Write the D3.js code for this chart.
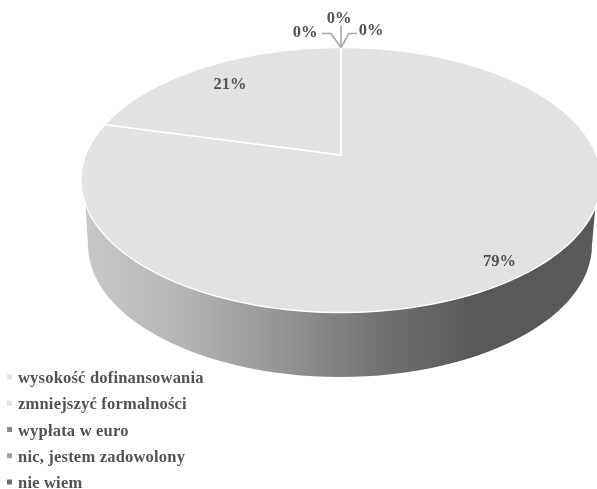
<!DOCTYPE html>
<html><head><meta charset="utf-8">
<script src="https://cdn.jsdelivr.net/npm/d3@7"></script>
<style>html,body{margin:0;background:#fff}svg{display:block}
text{font-family:"Liberation Serif",serif;font-weight:700;fill:#525252}</style>
</head><body><svg id="c" width="597" height="489"></svg>
<script>
const categories = ["wysokość dofinansowania","zmniejszyć formalności","wypłata w euro","nic, jestem zadowolony","nie wiem"];
const values = [79,21,0,0,0];
const sliceLabels = ["79%","21%","0%","0%","0%"];
const sliceColors = ["#e2e2e2","#e2e2e2","#8a8a8a","#a2a2a2","#707070"];

const W=597,H=489, cx=341, cy=180, rx=260, ry=132.5, k=0.189;
const botCx=340, botCy=245, botRx=252, botRy=132;
const svg=d3.select("#c");
const defs=svg.append("defs");
const blur=defs.append("filter").attr("id","soft").attr("x","-5%").attr("y","-20%").attr("width","110%").attr("height","140%");
blur.append("feGaussianBlur").attr("stdDeviation",0.4);
const grad=defs.append("linearGradient").attr("id","side").attr("gradientUnits","userSpaceOnUse")
  .attr("x1",81).attr("x2",597).attr("y1",0).attr("y2",0);
[[0,"#c9c9c9"],[0.2,"#b4b4b4"],[0.38,"#969696"],[0.5,"#808080"],[0.62,"#6c6c6c"],[0.76,"#595959"],[1,"#595959"]]
  .forEach(([o,c])=>grad.append("stop").attr("offset",o).attr("stop-color",c));

// circle angle -> perspective-projected top face
const project=a=>{const X=Math.sin(a),Y=Math.cos(a),d=1+k*Y;
  return [cx+rx*X*Math.sqrt(1-k*k)/d, cy-ry*(Y+k)/d];};
const apex=[cx,cy-ry*k];
const line=d3.line();
const pie=d3.pie().sort(null).value(d=>d)(values);

// side wall
const front=d3.range(0,61).map(i=>{const t=Math.PI/2-0.12+(Math.PI+0.24)*i/60;
  return [cx+rx*Math.sin(t),cy-ry*Math.cos(t)];});
const back=d3.range(0,61).map(i=>{const t=Math.PI*1.5-Math.PI*i/60;
  return [botCx+botRx*Math.sin(t),botCy-botRy*Math.cos(t)];});
svg.append("path").attr("d",line(front.concat(back))+"Z").attr("fill","url(#side)");

// top face slices
svg.selectAll("path.slice").data(pie).join("path").attr("class","slice")
  .attr("d",d=>{const n=Math.max(2,Math.ceil((d.endAngle-d.startAngle)*40));
    const pts=d3.range(n+1).map(i=>project(d.startAngle+(d.endAngle-d.startAngle)*i/n));
    return line([apex,...pts])+"Z";})
  .attr("fill",(d,i)=>sliceColors[i]).attr("stroke","#fff").attr("stroke-width",1.4).attr("stroke-linejoin","round");

// zero-slice leader lines
const rim=project(0), leaderGap=[[-19,-14,-10,-14],[0,-22,0,-22],[16,-14,8,-14]];
leaderGap.forEach(g=>{svg.append("path")
  .attr("d",line([[rim[0],rim[1]],[rim[0]+g[2],rim[1]+g[3]],[rim[0]+g[0],rim[1]+g[1]]]))
  .attr("fill","none").attr("stroke","#a8a8a8").attr("stroke-width",1.6);});

// slice labels
const labelPos=[[499.5,266],[230,89],[305,37],[339,23],[371,35]];
svg.selectAll("text.lab").data(sliceLabels).join("text").attr("class","lab")
  .attr("x",(d,i)=>labelPos[i][0]).attr("y",(d,i)=>labelPos[i][1])
  .attr("text-anchor","middle").attr("font-size",16.5).attr("filter","url(#soft)").text(d=>d);

// legend
const ly=d3.scalePoint().domain(categories).range([378,483]);
const g=svg.selectAll("g.leg").data(categories).join("g").attr("class","leg")
  .attr("transform",d=>`translate(0,${ly(d)})`);
g.append("rect").attr("x",7).attr("y",-3.5).attr("width",5).attr("height",5)
  .attr("fill",(d,i)=>sliceColors[i]);
g.append("text").attr("x",18).attr("y",5).attr("font-size",16.5).attr("letter-spacing",0.2)
  .attr("filter","url(#soft)").text(d=>d);
</script></body></html>
